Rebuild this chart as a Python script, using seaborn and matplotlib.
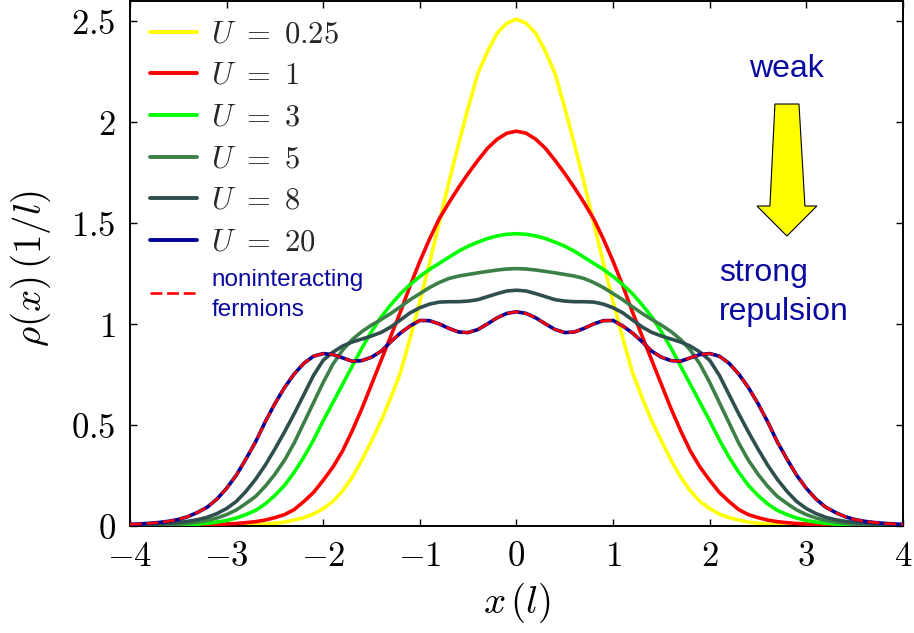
import numpy as np
import matplotlib
matplotlib.use("Agg")
import matplotlib.pyplot as plt
import seaborn as sns
from matplotlib.patches import Polygon

# x grid (units of l), step 0.1 from -4 to 4
x = np.round(np.arange(-40, 41) * 0.1, 1)

# density rho(x), x = -4.0 ... 4.0
rho_u025 = [0, 0, 0, 0, 0, 0, 0, 0, 0, 0.001,
            0.001, 0.002, 0.003, 0.005, 0.008, 0.012, 0.018, 0.028, 0.04, 0.058,
            0.085, 0.12, 0.172, 0.24, 0.325, 0.42, 0.52, 0.635, 0.76, 0.93,
            1.11, 1.30, 1.50, 1.70, 1.89, 2.07, 2.24, 2.35, 2.44, 2.49,
            2.51,
            2.49, 2.44, 2.35, 2.24, 2.07, 1.89, 1.70, 1.50, 1.30, 1.11,
            0.93, 0.76, 0.635, 0.52, 0.42, 0.325, 0.24, 0.172, 0.12, 0.085,
            0.058, 0.04, 0.028, 0.018, 0.012, 0.008, 0.005, 0.003, 0.002, 0.001,
            0.001, 0, 0, 0, 0, 0, 0, 0, 0, 0]

rho_u1 = [0, 0, 0, 0, 0.001, 0.001, 0.002, 0.003, 0.004, 0.006,
          0.008, 0.011, 0.015, 0.02, 0.028, 0.04, 0.055, 0.08, 0.12, 0.165,
          0.225, 0.29, 0.37, 0.47, 0.58, 0.70, 0.82, 0.94, 1.06, 1.19,
          1.31, 1.42, 1.52, 1.60, 1.675, 1.745, 1.81, 1.87, 1.915, 1.945,
          1.955,
          1.945, 1.915, 1.87, 1.81, 1.745, 1.675, 1.60, 1.52, 1.42, 1.31,
          1.19, 1.06, 0.94, 0.82, 0.70, 0.58, 0.47, 0.37, 0.29, 0.225,
          0.165, 0.12, 0.08, 0.055, 0.04, 0.028, 0.02, 0.015, 0.011, 0.008,
          0.006, 0.004, 0.003, 0.002, 0.001, 0.001, 0, 0, 0, 0]

rho_u3 = [0, 0, 0.001, 0.001, 0.002, 0.003, 0.005, 0.008, 0.012, 0.018,
          0.026, 0.038, 0.055, 0.076, 0.108, 0.15, 0.20, 0.265, 0.34, 0.425,
          0.52, 0.61, 0.70, 0.79, 0.88, 0.962, 1.035, 1.095, 1.15, 1.195,
          1.235, 1.27, 1.30, 1.33, 1.36, 1.385, 1.405, 1.423, 1.436, 1.444,
          1.447,
          1.444, 1.436, 1.423, 1.405, 1.385, 1.36, 1.33, 1.30, 1.27, 1.235,
          1.195, 1.15, 1.095, 1.035, 0.962, 0.88, 0.79, 0.70, 0.61, 0.52,
          0.425, 0.34, 0.265, 0.20, 0.15, 0.108, 0.076, 0.055, 0.038, 0.026,
          0.018, 0.012, 0.008, 0.005, 0.003, 0.002, 0.001, 0.001, 0, 0]

rho_u5 = [0.001, 0.002, 0.003, 0.004, 0.005, 0.008, 0.012, 0.018, 0.026, 0.038,
          0.055, 0.078, 0.11, 0.145, 0.195, 0.255, 0.325, 0.41, 0.51, 0.61,
          0.71, 0.80, 0.87, 0.922, 0.962, 0.994, 1.022, 1.052, 1.085, 1.12,
          1.15, 1.18, 1.205, 1.225, 1.237, 1.245, 1.253, 1.26, 1.267, 1.272,
          1.274,
          1.272, 1.267, 1.26, 1.253, 1.245, 1.237, 1.225, 1.205, 1.18, 1.15,
          1.12, 1.085, 1.052, 1.022, 0.994, 0.962, 0.922, 0.87, 0.80, 0.71,
          0.61, 0.51, 0.41, 0.325, 0.255, 0.195, 0.145, 0.11, 0.078, 0.055,
          0.038, 0.026, 0.018, 0.012, 0.008, 0.005, 0.004, 0.003, 0.002, 0.001]

rho_u8 = [0.004, 0.005, 0.007, 0.009, 0.012, 0.016, 0.022, 0.03, 0.042, 0.06,
          0.085, 0.12, 0.17, 0.23, 0.30, 0.38, 0.465, 0.555, 0.65, 0.745,
          0.82, 0.86, 0.89, 0.91, 0.925, 0.94, 0.958, 0.985, 1.02, 1.055,
          1.08, 1.098, 1.108, 1.11, 1.11, 1.113, 1.12, 1.135, 1.15, 1.163,
          1.167,
          1.163, 1.15, 1.135, 1.12, 1.113, 1.11, 1.11, 1.108, 1.098, 1.08,
          1.055, 1.02, 0.985, 0.958, 0.94, 0.925, 0.91, 0.89, 0.86, 0.82,
          0.745, 0.65, 0.555, 0.465, 0.38, 0.30, 0.23, 0.17, 0.12, 0.085,
          0.06, 0.042, 0.03, 0.022, 0.016, 0.012, 0.009, 0.007, 0.005, 0.004]

rho_u20 = [0.007, 0.009, 0.012, 0.016, 0.022, 0.031, 0.045, 0.066, 0.092, 0.132,
           0.185, 0.25, 0.33, 0.415, 0.515, 0.605, 0.685, 0.752, 0.805, 0.84,
           0.853, 0.848, 0.832, 0.815, 0.818, 0.835, 0.865, 0.912, 0.955, 0.99,
           1.017, 1.016, 1.0, 0.978, 0.96, 0.957, 0.972, 1.0, 1.03, 1.052,
           1.06,
           1.052, 1.03, 1.0, 0.972, 0.957, 0.96, 0.978, 1.0, 1.016, 1.017,
           0.99, 0.955, 0.912, 0.865, 0.835, 0.818, 0.815, 0.832, 0.848, 0.853,
           0.84, 0.805, 0.752, 0.685, 0.605, 0.515, 0.415, 0.33, 0.25, 0.185,
           0.132, 0.092, 0.066, 0.045, 0.031, 0.022, 0.016, 0.012, 0.009, 0.007]

rho_fermions = [0.007, 0.009, 0.012, 0.016, 0.022, 0.031, 0.045, 0.066, 0.092, 0.132,
                0.185, 0.25, 0.33, 0.415, 0.515, 0.605, 0.685, 0.752, 0.805, 0.84,
                0.853, 0.848, 0.832, 0.815, 0.818, 0.835, 0.865, 0.912, 0.955, 0.99,
                1.017, 1.016, 1.0, 0.978, 0.96, 0.957, 0.972, 1.0, 1.03, 1.052,
                1.06,
                1.052, 1.03, 1.0, 0.972, 0.957, 0.96, 0.978, 1.0, 1.016, 1.017,
                0.99, 0.955, 0.912, 0.865, 0.835, 0.818, 0.815, 0.832, 0.848, 0.853,
                0.84, 0.805, 0.752, 0.685, 0.605, 0.515, 0.415, 0.33, 0.25, 0.185,
                0.132, 0.092, 0.066, 0.045, 0.031, 0.022, 0.016, 0.012, 0.009, 0.007]

series = [rho_u025, rho_u1, rho_u3, rho_u5, rho_u8, rho_u20, rho_fermions]
labels = [r'$U\ =\ 0.25$', r'$U\ =\ 1$', r'$U\ =\ 3$', r'$U\ =\ 5$', r'$U\ =\ 8$',
          r'$U\ =\ 20$', 'noninteracting\nfermions']
colors = ['#FFFF00', '#FF0000', '#00FF00', '#3C8048', '#2F4F4F', '#000099', '#FF0000']

xticks = [-4, -3, -2, -1, 0, 1, 2, 3, 4]
xtick_labels = [r'$-4$', r'$-3$', r'$-2$', r'$-1$', r'$0$', r'$1$', r'$2$', r'$3$', r'$4$']
yticks = [0, 0.5, 1, 1.5, 2, 2.5]
ytick_labels = [r'$0$', r'$0.5$', r'$1$', r'$1.5$', r'$2$', r'$2.5$']

sns.set_style('ticks')
plt.rcParams['font.family'] = ['Liberation Sans', 'DejaVu Sans']
plt.rcParams['mathtext.fontset'] = 'cm'
plt.rcParams['lines.solid_joinstyle'] = 'round'
plt.rcParams['lines.solid_capstyle'] = 'round'

fig = plt.figure(figsize=(9.14, 6.33), dpi=100)
ax = fig.add_axes([0.1422, 0.1695, 0.8457, 0.8289])

for i, (vals, lab, col) in enumerate(zip(series, labels, colors)):
    sns.lineplot(x=x, y=vals, ax=ax, color=col, label=lab, lw=2.6, zorder=2 + i)

for ln in ax.get_lines():
    ln.set_solid_joinstyle('round')
fline = ax.get_lines()[-1]
fline.set_linewidth(1.9)
fline.set_linestyle((0, (4.5, 1.8)))

ax.set_xlim(-4, 4)
ax.set_ylim(0, 2.6)
ax.set_xticks(xticks, labels=xtick_labels)
ax.set_yticks(yticks, labels=ytick_labels)
ax.tick_params(direction='in', top=True, right=True, length=5, width=1.0,
               labelsize=25, color='black', labelcolor='black')
ax.tick_params(axis='x', pad=10)
ax.tick_params(axis='y', pad=10)
for sp in ax.spines.values():
    sp.set_visible(True)
    sp.set_color('black')
    sp.set_linewidth(1.4)

ax.set_xlabel(r'$x\,(l)$', fontsize=28, color='black')
ax.set_ylabel(r'$\rho(x)\,(1/l)$', fontsize=28, color='black')
ax.xaxis.set_label_coords(0.5, -0.105)
ax.yaxis.set_label_coords(-0.1, 0.49)

leg = ax.legend(loc='upper left', bbox_to_anchor=(0.026, 0.965), frameon=False,
                fontsize=22, handlelength=1.55, handletextpad=0.45,
                labelspacing=0.38, borderpad=0, borderaxespad=0)
ft = leg.get_texts()[-1]
ft.set_fontsize(17.5)
ft.set_color('#0A0AA0')
ft.set_family(['Liberation Sans', 'DejaVu Sans'])
ft.set_linespacing(1.45)
for h in leg.get_lines():
    h.set_linewidth(2.8)
leg.get_lines()[-1].set_linewidth(1.9)

blue = '#0A0AA0'
ax.text(0.8497, 0.8552, 'weak', transform=ax.transAxes, ha='center', va='baseline',
        fontsize=23, color=blue)
ax.text(0.7624, 0.4664, 'strong', transform=ax.transAxes, ha='left', va='baseline',
        fontsize=23, color=blue)
ax.text(0.7624, 0.392, 'repulsion', transform=ax.transAxes, ha='left', va='baseline',
        fontsize=23, color=blue)

arrow = Polygon([(0.8344, 0.8037), (0.8655, 0.8037), (0.8732, 0.6093), (0.8887, 0.6093),
                 (0.8499, 0.5521), (0.8111, 0.6093), (0.8279, 0.6093)],
                closed=True, transform=ax.transAxes, facecolor='#FFFF00',
                edgecolor='black', linewidth=0.8, zorder=10)
ax.add_patch(arrow)

fig.savefig('out.png', dpi=100)
